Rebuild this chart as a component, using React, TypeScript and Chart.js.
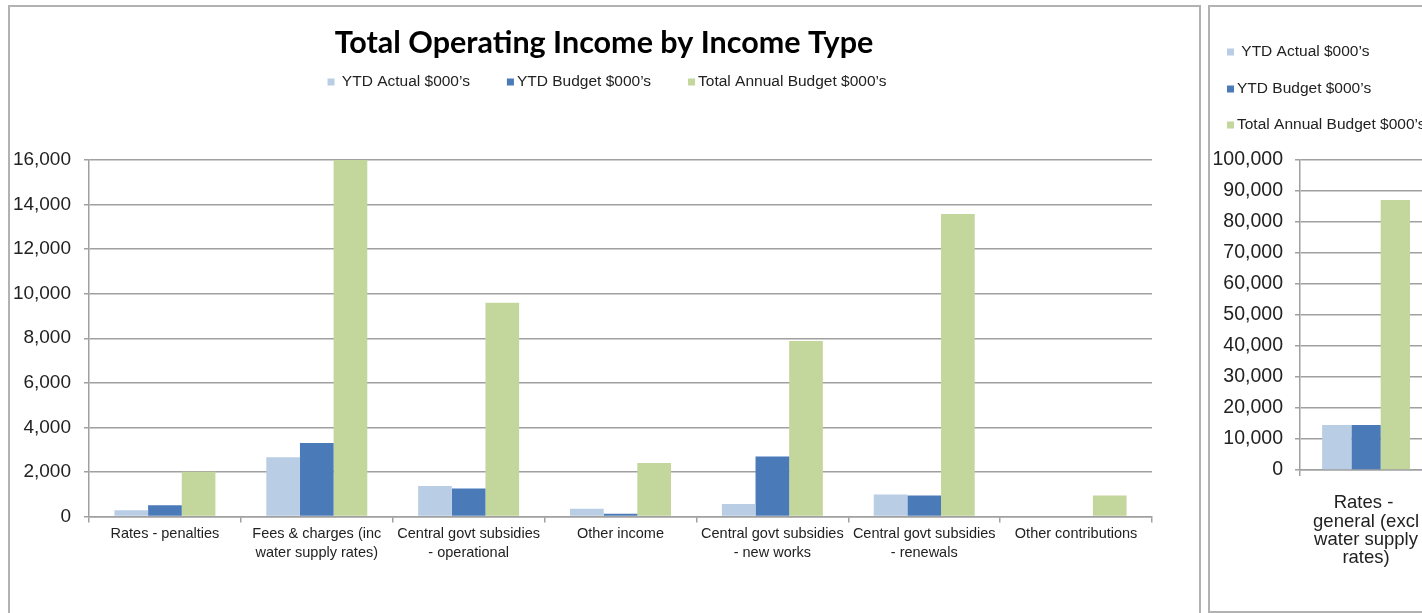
import React, { useEffect, useRef } from "react";
import { Chart, registerables } from "chart.js";

Chart.register(...registerables);

// ---------- data ----------
const chartTitle = "Total Operating Income by Income Type";

const incomeTypes: string[][] = [
  ["Rates - penalties"],
  ["Fees & charges (inc", "water supply rates)"],
  ["Central govt subsidies", "- operational"],
  ["Other income"],
  ["Central govt subsidies", "- new works"],
  ["Central govt subsidies", "- renewals"],
  ["Other contributions"],
];
const ytdActual = [275, 2660, 1370, 350, 565, 990, 0];
const ytdBudget = [500, 3300, 1260, 120, 2690, 945, 0];
const annualBudget = [2010, 16000, 9590, 2400, 7880, 13580, 945];

const generalRatesTypes: string[][] = [["Rates - ", "general (excl", "water supply", "rates)"]];
const generalActual = [14500];
const generalBudget = [14500];
const generalAnnual = [87100];

const seriesNames = [" YTD Actual $000\u2019s", "YTD Budget $000\u2019s", "Total Annual Budget $000\u2019s"];
const seriesColors = ["#b9cde5", "#4a7ab8", "#c3d69b"];

const mainYMax = 16000;
const mainYStep = 2000;
const sideYMax = 100000;
const sideYStep = 10000;

// ---------- styling helpers ----------
const SANS = "'Liberation Sans', Arial, sans-serif";
const GRID = "#a0a0a0";
const TEXT = "#222222";

function makeDatasets(a: number[], b: number[], c: number[]) {
  return [a, b, c].map((d, i) => ({
    label: seriesNames[i],
    data: d,
    backgroundColor: seriesColors[i],
    borderWidth: 0,
    categoryPercentage: 0.665,
    barPercentage: 1.0,
  }));
}

function legendItems(chart: any) {
  return chart.data.datasets.map((ds: any) => ({ text: ds.label, color: ds.backgroundColor }));
}

const mainHeader = {
  id: "mainHeader",
  afterDraw(chart: any) {
    const ctx = chart.ctx as CanvasRenderingContext2D;
    ctx.save();
    // title
    ctx.font = "bold 30.5px Lato, 'Open Sans', sans-serif";
    ctx.fillStyle = "#000";
    ctx.textAlign = "center";
    ctx.textBaseline = "middle";
    ctx.fillText(chartTitle, chart.width / 2, 36);
    // legend in one row
    const items = legendItems(chart);
    ctx.font = `15.5px ${SANS}`;
    ctx.textAlign = "left";
    const gap = 37;
    const widths = items.map((it: any) => 10 + ctx.measureText(it.text).width);
    const total = widths.reduce((s: number, w: number) => s + w, 0) + gap * (items.length - 1);
    let x = chart.width / 2 + 3 - total / 2;
    const y = 75;
    items.forEach((it: any, i: number) => {
      ctx.fillStyle = it.color;
      ctx.fillRect(x, y - 3.5, 7, 7);
      ctx.fillStyle = TEXT;
      ctx.fillText(it.text, x + 10, y);
      x += widths[i] + gap;
    });
    ctx.restore();
  },
};

const sideHeader = {
  id: "sideHeader",
  afterDraw(chart: any) {
    const ctx = chart.ctx as CanvasRenderingContext2D;
    ctx.save();
    const items = legendItems(chart);
    ctx.font = `15.5px ${SANS}`;
    ctx.textAlign = "left";
    ctx.textBaseline = "middle";
    const ys = [45, 82, 118];
    items.forEach((it: any, i: number) => {
      const x = 17;
      ctx.fillStyle = it.color;
      ctx.fillRect(x, ys[i] - 3.5, 7, 7);
      ctx.fillStyle = TEXT;
      ctx.fillText(it.text, x + 10, ys[i]);
    });
    ctx.restore();
  },
};

function baseOptions(opts: {
  yMax: number;
  yStep: number;
  yWidth: number;
  xHeight: number;
  yFont: number;
  xFont: number;
  xLineHeight: number;
  xPad: number;
  yPad: number;
  padding: any;
}) {
  return {
    responsive: false,
    animation: false as const,
    maintainAspectRatio: false,
    layout: { padding: opts.padding },
    plugins: {
      legend: { display: false },
      title: { display: false },
      tooltip: { enabled: false },
    },
    scales: {
      x: {
        type: "category" as const,
        offset: true,
        grid: {
          offset: true,
          drawOnChartArea: false,
          drawTicks: true,
          tickLength: 6,
          color: GRID,
          lineWidth: 1.5,
        },
        border: { display: true, color: GRID, width: 1.5 },
        ticks: {
          autoSkip: false,
          maxRotation: 0,
          minRotation: 0,
          padding: opts.xPad,
          color: TEXT,
          font: { family: SANS, size: opts.xFont, lineHeight: opts.xLineHeight },
        },
        afterFit(scale: any) {
          scale.height = opts.xHeight;
        },
      },
      y: {
        min: 0,
        max: opts.yMax,
        grid: {
          color: GRID,
          lineWidth: 1.5,
          drawTicks: true,
          tickLength: 5,
        },
        border: { display: true, color: GRID, width: 1.5 },
        ticks: {
          stepSize: opts.yStep,
          padding: opts.yPad,
          color: TEXT,
          font: { family: SANS, size: opts.yFont },
          callback: (v: any) => Number(v).toLocaleString("en-US"),
        },
        afterFit(scale: any) {
          scale.width = opts.yWidth;
        },
      },
    },
  };
}

function MainChart() {
  const ref = useRef<HTMLCanvasElement | null>(null);
  useEffect(() => {
    if (!ref.current) return;
    const chart = new Chart(ref.current, {
      type: "bar",
      data: {
        labels: incomeTypes,
        datasets: makeDatasets(ytdActual, ytdBudget, annualBudget),
      },
      options: baseOptions({
        yMax: mainYMax,
        yStep: mainYStep,
        yWidth: 79,
        xHeight: 60,
        yFont: 19,
        xFont: 14.5,
        xLineHeight: 1.3,
        xPad: 2.5,
        yPad: 13,
        padding: { top: 153, left: 0, right: 46, bottom: 36.5 },
      }) as any,
      plugins: [mainHeader],
    });
    return () => chart.destroy();
  }, []);
  return (
    <canvas
      ref={ref}
      width={1188}
      height={606}
      style={{ position: "absolute", left: 10, top: 7, width: 1188, height: 606 }}
    />
  );
}

function SideChart() {
  const ref = useRef<HTMLCanvasElement | null>(null);
  useEffect(() => {
    if (!ref.current) return;
    const chart = new Chart(ref.current, {
      type: "bar",
      data: {
        labels: generalRatesTypes,
        datasets: makeDatasets(generalActual, generalBudget, generalAnnual),
      },
      options: baseOptions({
        yMax: sideYMax,
        yStep: sideYStep,
        yWidth: 90,
        xHeight: 100,
        yFont: 19.5,
        xFont: 18.5,
        xLineHeight: 0.99,
        xPad: 18,
        yPad: 12,
        padding: { top: 153, left: 0, right: 6, bottom: 41 },
      }) as any,
      plugins: [sideHeader],
    });
    return () => chart.destroy();
  }, []);
  return (
    <canvas
      ref={ref}
      width={230}
      height={604}
      style={{ position: "absolute", left: 1210, top: 7, width: 230, height: 604 }}
    />
  );
}

export default function App() {
  return (
    <div
      style={{
        position: "fixed",
        left: 0,
        top: 0,
        width: 1422,
        height: 613,
        overflow: "hidden",
        background: "#ffffff",
      }}
    >
      <div
        style={{
          position: "absolute",
          left: 8,
          top: 5,
          width: 1193,
          height: 700,
          border: "2px solid #b2b2b2",
          boxSizing: "border-box",
        }}
      />
      <div
        style={{
          position: "absolute",
          left: 1208,
          top: 5,
          width: 400,
          height: 608,
          border: "2px solid #b2b2b2",
          boxSizing: "border-box",
        }}
      />
      <MainChart />
      <SideChart />
    </div>
  );
}
